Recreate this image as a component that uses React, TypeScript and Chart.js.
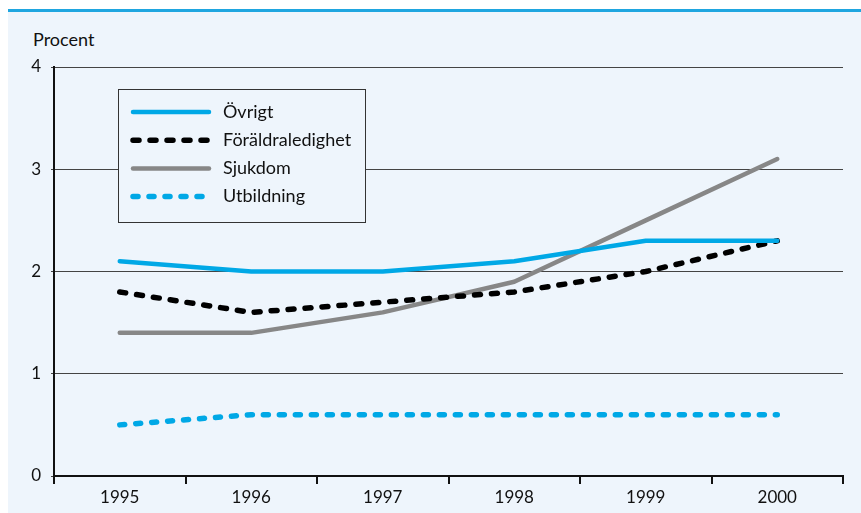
import React, { useEffect, useRef } from "react";
import { Chart, registerables } from "chart.js";

Chart.register(...registerables);

const years = ["1995", "1996", "1997", "1998", "1999", "2000"];
const ovrigt = [2.1, 2.0, 2.0, 2.1, 2.3, 2.3];
const foraldraledighet = [1.8, 1.6, 1.7, 1.8, 2.0, 2.3];
const sjukdom = [1.4, 1.4, 1.6, 1.9, 2.5, 3.1];
const utbildning = [0.5, 0.6, 0.6, 0.6, 0.6, 0.6];
const seriesNames = ["Övrigt", "Föräldraledighet", "Sjukdom", "Utbildning"];
const yTicks = [0, 1, 2, 3, 4];

const FONT = "Lato, 'Open Sans', sans-serif";
const BG = "#EEF5FC";
const BLUE = "#00A8E6";

const legendPlugin = {
  id: "boxLegend",
  afterDraw(chart: any) {
    const ctx = chart.ctx;
    const x0 = 118.5, y0 = 89.5, w = 247, h = 133;
    ctx.save();
    ctx.fillStyle = BG;
    ctx.fillRect(x0, y0, w, h);
    ctx.strokeStyle = "#333";
    ctx.lineWidth = 1;
    ctx.strokeRect(x0, y0, w, h);
    chart.data.datasets.forEach((ds: any, i: number) => {
      const y = 112 + i * 28.2;
      ctx.beginPath();
      ctx.strokeStyle = ds.borderColor;
      ctx.lineWidth = ds.borderWidth;
      ctx.lineCap = "round";
      ctx.setLineDash(ds.borderDash || []);
      ctx.moveTo(133, y);
      ctx.lineTo(209, y);
      ctx.stroke();
      ctx.setLineDash([]);
      ctx.fillStyle = "#111";
      ctx.font = `18px ${FONT}`;
      ctx.textBaseline = "middle";
      ctx.textAlign = "left";
      ctx.fillText(ds.label, 223, y);
    });
    ctx.restore();
  },
};

export default function App() {
  const ref = useRef<HTMLCanvasElement | null>(null);
  useEffect(() => {
    if (!ref.current) return;
    const chart = new Chart(ref.current, {
      type: "line",
      data: {
        labels: years,
        datasets: [
          { label: seriesNames[0], data: ovrigt, borderColor: BLUE, borderWidth: 4.5, borderDash: [] },
          { label: seriesNames[1], data: foraldraledighet, borderColor: "#000", borderWidth: 5.5, borderDash: [6, 11] },
          { label: seriesNames[2], data: sjukdom, borderColor: "#878787", borderWidth: 4.5, borderDash: [] },
          { label: seriesNames[3], data: utbildning, borderColor: BLUE, borderWidth: 5.5, borderDash: [5, 11] },
        ].map((d) => ({
          ...d,
          pointRadius: 0,
          tension: 0,
          fill: false,
          borderCapStyle: "round" as const,
          borderJoinStyle: "round" as const,
        })),
      },
      options: {
        animation: false,
        responsive: false,
        maintainAspectRatio: false,
        layout: { padding: { top: 67, right: 18, left: 0, bottom: 0 } },
        plugins: { legend: { display: false }, tooltip: { enabled: false } },
        scales: {
          x: {
            type: "category",
            offset: true,
            grid: { offset: true, drawOnChartArea: false, drawTicks: true, tickLength: 8, color: "#111", lineWidth: 2 },
            border: { display: true, color: "#111", width: 2 },
            ticks: { color: "#111", font: { family: FONT, size: 17 }, padding: 3, maxRotation: 0 },
            afterFit: (s: any) => { s.height = 37; },
          },
          y: {
            min: 0,
            max: 4,
            afterBuildTicks: (s: any) => { s.ticks = yTicks.map((v) => ({ value: v })); },
            grid: { color: "#444", lineWidth: 1, tickLength: 3, drawTicks: true },
            border: { display: true, color: "#111", width: 2 },
            ticks: { color: "#111", font: { family: FONT, size: 17 }, padding: 10, callback: (v: any) => String(v) },
            afterFit: (s: any) => { s.width = 54; },
          },
        },
      },
      plugins: [legendPlugin],
    });
    return () => chart.destroy();
  }, []);

  return (
    <div style={{ position: "fixed", left: 0, top: 0, width: 861, height: 513, background: "#fff", overflow: "hidden" }}>
      <div style={{ position: "absolute", left: 8, top: 9, width: 853, height: 2.5, background: "#1FA6E0" }} />
      <div style={{ position: "absolute", left: 8, top: 11.5, width: 853, height: 502, background: BG }} />
      <div style={{ position: "absolute", left: 33, top: 28, fontFamily: FONT, fontSize: 18, color: "#111", lineHeight: "22px" }}>Procent</div>
      <canvas ref={ref} width={861} height={513} style={{ position: "absolute", left: 0, top: 0, width: 861, height: 513 }} />
    </div>
  );
}
